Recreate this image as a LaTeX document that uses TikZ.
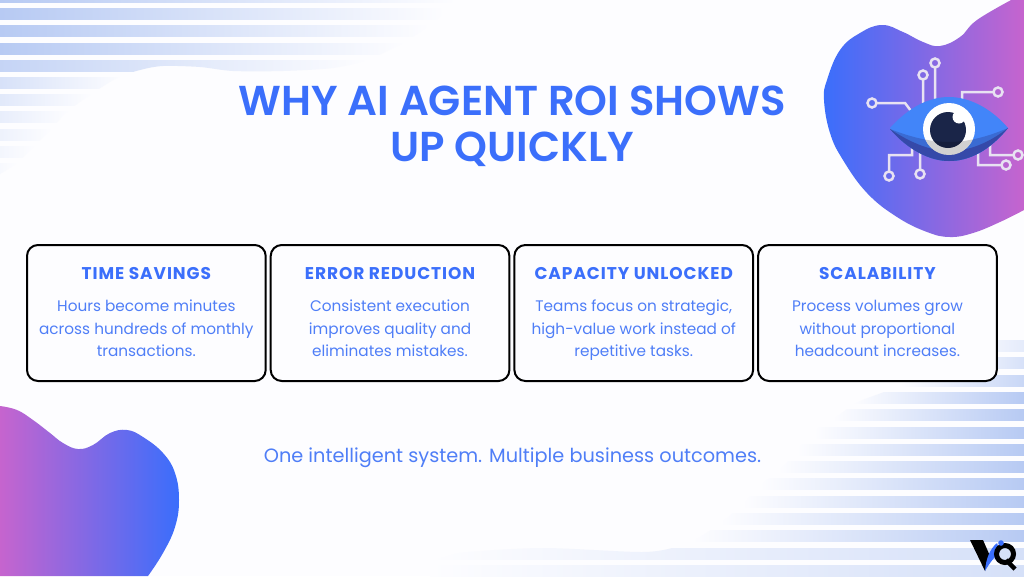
\documentclass[tikz,border=0pt]{standalone}
\usepackage{fontspec}
\setmainfont{Poppins}
\newfontfamily\titlefont{Poppins}[UprightFont=* SemiBold]
\newfontfamily\headfont{Poppins}[UprightFont=* Bold, LetterSpace=5.5]
\usetikzlibrary{positioning}

\definecolor{pagewhite}{HTML}{FDFDFF}
\definecolor{stripeblue}{HTML}{B7CAF3}
\definecolor{inkblue}{HTML}{3B6FFB}
\definecolor{softblue}{HTML}{4F7EF7}
\definecolor{blobblue}{HTML}{3A6EFC}
\definecolor{blobpink}{HTML}{C664CE}
\definecolor{pinwhite}{HTML}{E8E2F2}
\definecolor{eyeblue}{HTML}{4285F9}
\definecolor{eyemid}{HTML}{3A6BD3}
\definecolor{eyedark}{HTML}{3549A9}
\definecolor{pupildark}{HTML}{1A2548}

\tikzset{
  card/.style={draw=black, line width=2pt, fill=pagewhite, rounded corners=11pt, minimum width=238.7pt, minimum height=136pt, outer sep=0pt, inner sep=0pt},
  cardhead/.style={text=inkblue, font=\fontsize{17}{20}\headfont, anchor=center, inner sep=0pt},
  cardbody/.style={text=softblue, font=\fontsize{15.3}{22.5}\selectfont, align=center, anchor=north, inner sep=0pt},
  pin/.style={draw=pinwhite, line width=2.5pt},
}

\begin{document}
\begin{tikzpicture}[x=1pt, y=-1pt]

\useasboundingbox (0,0) rectangle (1024,576);
\clip (0,0) rectangle (1024,576);
\fill[pagewhite] (0,0) rectangle (1024,576);

% stripes, top left
\begin{scope}
\clip plot[smooth] coordinates {(456,-4) (447,10) (427,27) (403,43) (367,60) (333,68) (283,71) (233,71) (200,67) (163,66) (140,70) (117,78) (90,95) (67,112) (50,130) (33,147) (17,163) (0,174)} -- (0,-4) -- cycle;
\foreach \y/\xe/\p in {-9/456/100, 8/445/100, 25/430/100, 43/405/100, 60/368/80, 77/125/55, 94/92/40, 111/70/30, 129/52/22, 146/36/14, 163/18/8}
  \shade[left color=stripeblue!\p!pagewhite, right color=pagewhite] (0,\y) rectangle (\xe,\y+11.3);
\end{scope}

% stripes, bottom right
\begin{scope}
\clip plot[smooth] coordinates {(1010,330) (900,385) (858,402) (835,418) (816,430) (799,448) (780,470) (763,483) (744,503) (722,522) (695,540) (676,547) (642,552) (544,548) (468,552) (445,557) (425,565) (415,578)} -- (1024,578) -- (1024,330) -- cycle;
\foreach \y/\xs/\p in {340/960/35, 357/950/55, 375/900/75, 392/852/100, 409/833/100, 427/814/100, 444/797/100, 461/778/100, 478/760/100, 496/742/100, 513/720/100, 530/692/100}
  \shade[left color=pagewhite, right color=stripeblue!\p!pagewhite] (\xs,\y) rectangle (1024,\y+11.3);
\foreach \y in {548, 565}
  \shade[left color=pagewhite, middle color=stripeblue, right color=stripeblue!80!pagewhite] (430,\y) rectangle (1262,\y+11.3);
\end{scope}

% blobs
\shade[left color=blobblue, right color=blobpink] plot[smooth, tension=0.7] coordinates {(1013,-1) (977,20) (960,37) (940,46) (923,42) (903,32) (882,25) (860,33) (840,50) (827,80) (824,100) (830,133) (843,160) (867,193) (897,217) (927,232) (950,237) (973,233) (1000,222) (1024,210)} -- (1024,-1) -- cycle;

\shade[left color=blobpink, right color=blobblue] plot[smooth, tension=0.7] coordinates {(0,406) (17,410) (33,420) (50,433) (63,443) (78,449) (93,445) (110,433) (127,430) (143,437) (163,453) (175,473) (179,500) (175,527) (163,553) (148,576)} -- (0,576) -- cycle;

% circuit pins
\draw[pin] (935,63) circle (4.5) (935,67.5) -- (935,99);
\draw[pin] (923,75) circle (4.5) (923,79.5) -- (923,103);
\draw[pin] (872,103) circle (4.5) (876.5,103) -- (905,103) -- (911,111);
\draw[pin] (998,92) circle (4.5) (993.5,92) -- (962,92) -- (962,101);
\draw[pin] (889,176) circle (4.5) (889,171.5) -- (889,155) -- (912,155) -- (912,145);
\draw[pin] (920,174) circle (4.5) (920,169.5) -- (920,150);
\draw[pin] (1006,165) circle (4.5) (1001.5,165) -- (978,165) -- (978,150);
\draw[pin] (1018,155) circle (4.5) (1013.5,155) -- (990,155) -- (990,142);

% eye
\fill[eyeblue] (890,128) .. controls (910,106) and (930,97) .. (949,97) .. controls (968,97) and (990,107) .. (1008,128) .. controls (990,150) and (970,161) .. (949,161) .. controls (930,161) and (908,150) .. (890,128) -- cycle;
\fill[eyemid] (890,129) .. controls (915,139) and (935,142) .. (949,142) .. controls (965,142) and (985,138) .. (1008,128) .. controls (990,150) and (970,161) .. (949,161) .. controls (930,161) and (908,150) .. (890,129) -- cycle;
\fill[eyedark] (890,129) .. controls (915,146) and (935,151) .. (949,151) .. controls (965,151) and (985,146) .. (1008,128) .. controls (990,150) and (970,161) .. (949,161) .. controls (930,161) and (908,150) .. (890,129) -- cycle;
\fill[white] (949,129) circle (26);
\fill[pupildark] (948,130) circle (18);
\fill[white] (959,117) circle (6.5);
\begin{scope}
\clip (949,129) circle (26);
\fill[black, opacity=0.18] (890,129) .. controls (915,139) and (935,142) .. (949,142) .. controls (965,142) and (985,138) .. (1008,128) -- (1008,170) -- (890,170) -- cycle;
\end{scope}

% title
\node[text=inkblue, font=\fontsize{41.8}{46}\titlefont, align=center, anchor=center, inner sep=0pt] (title-label) at (512,126.5) {WHY AI AGENT ROI SHOWS\\UP QUICKLY};

% cards
\node[card, anchor=north west] (time-card) at (27,245) {};
\node[card, right=5pt of time-card] (error-card) {};
\node[card, right=5pt of error-card] (capacity-card) {};
\node[card, right=5pt of capacity-card] (scale-card) {};

\node[cardhead] (time-head) at ([yshift=-29pt]time-card.north) {TIME SAVINGS};
\node[cardhead] (error-head) at ([yshift=-29pt]error-card.north) {ERROR REDUCTION};
\node[cardhead] (capacity-head) at ([yshift=-29pt]capacity-card.north) {CAPACITY UNLOCKED};
\node[cardhead] (scale-head) at ([yshift=-29pt]scale-card.north) {SCALABILITY};

\node[cardbody] (time-body) at ([yshift=-55pt]time-card.north) {Hours become minutes\\across hundreds of monthly\\transactions.};
\node[cardbody] (error-body) at ([yshift=-55pt]error-card.north) {Consistent execution\\improves quality and\\eliminates mistakes.};
\node[cardbody] (capacity-body) at ([yshift=-55pt]capacity-card.north) {Teams focus on strategic,\\high-value work instead of\\repetitive tasks.};
\node[cardbody] (scale-body) at ([yshift=-55pt]scale-card.north) {Process volumes grow\\without proportional\\headcount increases.};

\node[text=softblue, font=\fontsize{19.3}{22}\selectfont, anchor=center, inner sep=0pt] (outcome-label) at (512.5,458) {One intelligent system. Multiple business outcomes.};

% logo
\fill[black] (970,540) -- (983,540) -- (990,556) -- (985,571) -- cycle;
\fill[blobblue] (985,571) .. controls (986,558) and (990,549) .. (997,543) -- (1000,552) .. controls (994,557) and (989,564) .. (985,571) -- cycle;
\draw[black, line width=5pt] (1005,554) circle (8.5);
\draw[black, line width=4.5pt] (1006,560) -- (1015,569);
\fill[blobblue] (1001,543) circle (2.8);

\end{tikzpicture}
\end{document}
